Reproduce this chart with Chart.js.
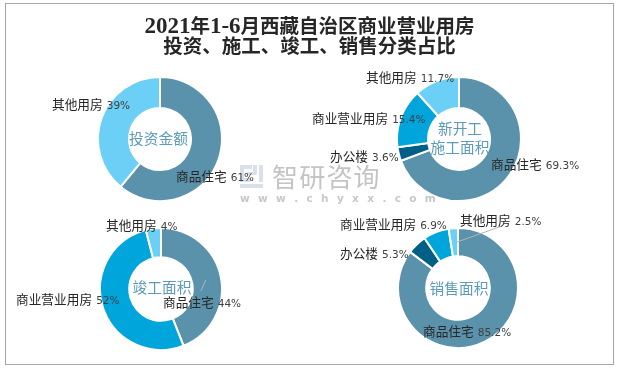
<!DOCTYPE html>
<html><head><meta charset="utf-8">
<script src="https://cdn.jsdelivr.net/npm/chart.js@4"></script>
<style>
html,body{margin:0;padding:0;background:#fff;width:619px;height:368px;overflow:hidden}
#frame{position:absolute;left:5px;top:3px;width:607px;height:360px;border:1px solid #a6a6a6;box-sizing:content-box}
canvas.d,svg{position:absolute;left:0;top:0}
.t{position:absolute;white-space:nowrap;line-height:1;font-family:"Noto Sans CJK SC",sans-serif}
.l{font-size:12.7px;color:#262626}
.l span{font-family:"DejaVu Sans";font-size:10.5px;color:#404040;margin-left:4px}
.c{font-size:14.7px;color:#5b9bb8;text-align:center;line-height:19px;transform:translate(-50%,-50%)}
#title{width:619px;text-align:center;font:bold 19.5px/19px "Noto Sans CJK SC",sans-serif;color:#262626}
#title i{font:bold 23px/19px "Liberation Serif";}
.wm{color:#c4c4c4}
</style></head><body>
<div id="frame"></div>
<div id="root"></div>
<script>
const cats = ["商品住宅","办公楼","商业营业用房","其他用房"];
const colors = ["#5b92ab","#005f86","#00a5dc","#6bcff6"];
const invest = [61,0,0,39];
const newStart = [69.3,3.6,15.4,11.7];
const finished = [44,0,52,4];
const sales = [85.2,5.3,6.9,2.5];
const titleLines = ["2021年1-6月西藏自治区商业营业用房","投资、施工、竣工、销售分类占比"];

const panels = [
 {data:invest, cx:159.5, cy:139, r:61, cut:'50%', tx:158.5, ty:136.5, center:["投资金额"], labels:[[0,176,176.5,"61%"],[3,52,104.5,"39%"]]},
 {data:newStart, cx:459, cy:139, r:61, cut:'50%', tx:460, ty:137, center:["新开工","施工面积"], labels:[[0,491,164,"69.3%"],[1,330,156,"3.6%"],[2,312,118,"15.4%"],[3,366,77,"11.7%"]]},
 {data:finished, cx:160.5, cy:289, r:60, cut:'52%', tx:162, ty:286, center:["竣工面积"], labels:[[0,163,302,"44%"],[2,16,299,"52%"],[3,106,225,"4%"]]},
 {data:sales, cx:458, cy:288, r:59, cut:'53%', tx:459, ty:287, center:["销售面积"], labels:[[0,423,331,"85.2%"],[1,340,253,"5.3%"],[2,340,224,"6.9%"],[3,460,220,"2.5%"]]}
];
const root = document.getElementById('root');
function addText(cls, x, y, html){
  const d=document.createElement('div'); d.className='t '+cls;
  d.style.left=x+'px'; d.style.top=y+'px'; d.innerHTML=html; root.appendChild(d); return d;
}
panels.forEach(p=>{
  const size=2*p.r+6;
  const cv=document.createElement('canvas');
  cv.className='d'; cv.width=size; cv.height=size;
  cv.style.left=(p.cx-size/2)+'px'; cv.style.top=(p.cy-size/2)+'px';
  cv.style.width=size+'px'; cv.style.height=size+'px';
  root.appendChild(cv);
  new Chart(cv,{type:'doughnut',
    data:{labels:cats,datasets:[{data:p.data,backgroundColor:colors,borderColor:'#fff',borderWidth:2,borderAlign:'center'}]},
    options:{responsive:false,animation:false,cutout:p.cut,radius:p.r+1,
      layout:{padding:0},plugins:{legend:{display:false},tooltip:{enabled:false}}}});
});
const ns='http://www.w3.org/2000/svg';
const svg=document.createElementNS(ns,'svg');
svg.setAttribute('width',619);svg.setAttribute('height',368);
svg.innerHTML=
 '<path d="M502 226L457 242M205.7 280L201 291" stroke="#b4b4b4" stroke-width="1" fill="none"/>'+
 '<g fill="#d8e0ec"><rect x="240" y="165" width="12" height="4"/><rect x="240" y="165" width="4" height="17"/><rect x="240" y="178" width="10" height="4"/>'+
 '<rect x="247" y="172" width="9" height="3"/><rect x="253" y="165" width="4" height="9"/><rect x="259" y="165" width="4" height="17"/>'+
 '<rect x="240" y="184" width="23" height="4"/></g>';
root.appendChild(svg);
addText('wm',272,163,'智研咨询').style.cssText+='font-size:26px;letter-spacing:1.2px;font-weight:400';
addText('wm',240,192,'w w w . c h y x x . c o m').style.cssText+='font:bold 10.5px "DejaVu Sans";letter-spacing:2.35px;color:#c8c8c8';
panels.forEach(p=>{
  addText('c',p.tx,p.ty,p.center.join('<br>'));
  p.labels.forEach(([i,x,y,v])=>addText('l',x,y-6.5,cats[i]+'<span>'+v+'</span>'));
});
const t=addText('',0,15,titleLines.map(s=>s.replace(/[0-9-]+/g,m=>'<i>'+m+'</i>')).join('<br>')); t.id='title';
</script>
</body></html>
